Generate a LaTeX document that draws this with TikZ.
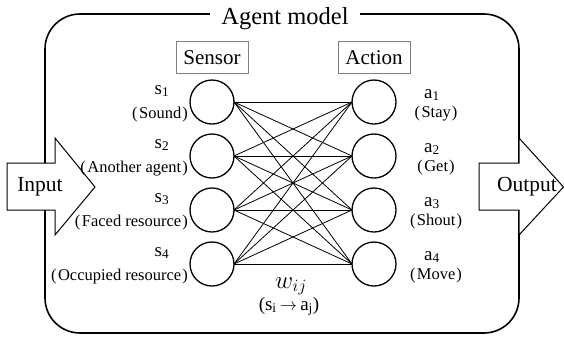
\documentclass[tikz,border=0pt]{standalone}
\usepackage{fontspec}
\setmainfont{Liberation Serif}
\usetikzlibrary{positioning}
\tikzset{node distance=10pt,
	neuron/.style={
		circle,
		draw,
		line width=1.3pt,
		minimum size=44pt,
		inner sep=0pt,
		outer sep=0pt
	},
	headbox/.style={
		draw=gray,
		line width=0.7pt,
		minimum width=72pt,
		minimum height=32pt,
		inner sep=0pt,
		font=\fontsize{21}{21}\selectfont
	},
	symlabel/.style={anchor=base, inner sep=0pt, font=\fontsize{19}{19}\selectfont},
	namelabel/.style={inner sep=0pt, font=\fontsize{16.5}{16.5}\selectfont},
	ioarrow/.style={draw, fill=white, line width=1pt},
	iotext/.style={inner sep=0pt, font=\fontsize{21.5}{21.5}\selectfont},
	weight/.style={line width=0.8pt}
}
\newcommand{\pname}[1]{(\kern1.5pt#1\kern1pt)}

\begin{document}
\begin{tikzpicture}[x=1pt,y=-1pt]
	\useasboundingbox (0,0) rectangle (564,338);
	\draw[line width=1.6pt, rounded corners=35pt] (45,14) rectangle (519,333);
	\node[fill=white, anchor=base, inner xsep=11pt, inner ysep=0pt, font=\fontsize{24.5}{24.5}\selectfont] (title) at (285,24) {Agent model};

	\draw[ioarrow] (7,163) -- (55,163) -- (55,138) -- (95,187) -- (55,235) -- (55,210) -- (7,210) -- cycle;
	\draw[ioarrow] (479,163) -- (519,163) -- (519,138) -- (563.5,187) -- (519,235) -- (519,210) -- (479,210) -- cycle;
	\node[iotext] (input) at (40,187) {Input};
	\node[iotext] (output) at (527,187) {Output};

	\node[neuron] (s1) at (212,102) {};
	\node[neuron, below=of s1] (s2) {};
	\node[neuron, below=of s2] (s3) {};
	\node[neuron, below=of s3] (s4) {};
	\node[neuron, right=118pt of s1] (a1) {};
	\node[neuron, below=of a1] (a2) {};
	\node[neuron, below=of a2] (a3) {};
	\node[neuron, below=of a3] (a4) {};

	\node[headbox, above=6pt of s1] (sensor) {Sensor};
	\node[headbox, above=6pt of a1] (action) {Action};

	\foreach \i/\what in {1/Sound, 2/Another agent, 3/Faced resource, 4/Occupied resource} {
		\node[symlabel] (s\i sym) at ([shift={(-50,-8)}]s\i.center) {s\textsubscript{\i}};
		\node[namelabel, anchor=base east] (s\i name) at ([shift={(-24,16)}]s\i.center) {\pname{\what}};
	}
	\foreach \j/\what in {1/Stay, 2/Get, 3/Shout, 4/Move} {
		\node[symlabel] (a\j sym) at ([shift={(58,-4)}]a\j.center) {a\textsubscript{\j}};
		\node[namelabel, anchor=base] (a\j name) at ([shift={(62,15)}]a\j.center) {\pname{\what}};
	}

	\foreach \i in {1,...,4}
		\foreach \j in {1,...,4}
			\draw[weight] (s\i.east) -- (a\j.west);

	\node[anchor=base, inner sep=0pt, font=\fontsize{24}{24}\selectfont] (wij) at (291,288) {$w_{ij}$};
	\node[anchor=base, inner sep=0pt, font=\fontsize{19}{19}\selectfont] (map) at (289,310) {(s\textsubscript{i}\,$\rightarrow$\,a\textsubscript{j})};
\end{tikzpicture}
\end{document}
